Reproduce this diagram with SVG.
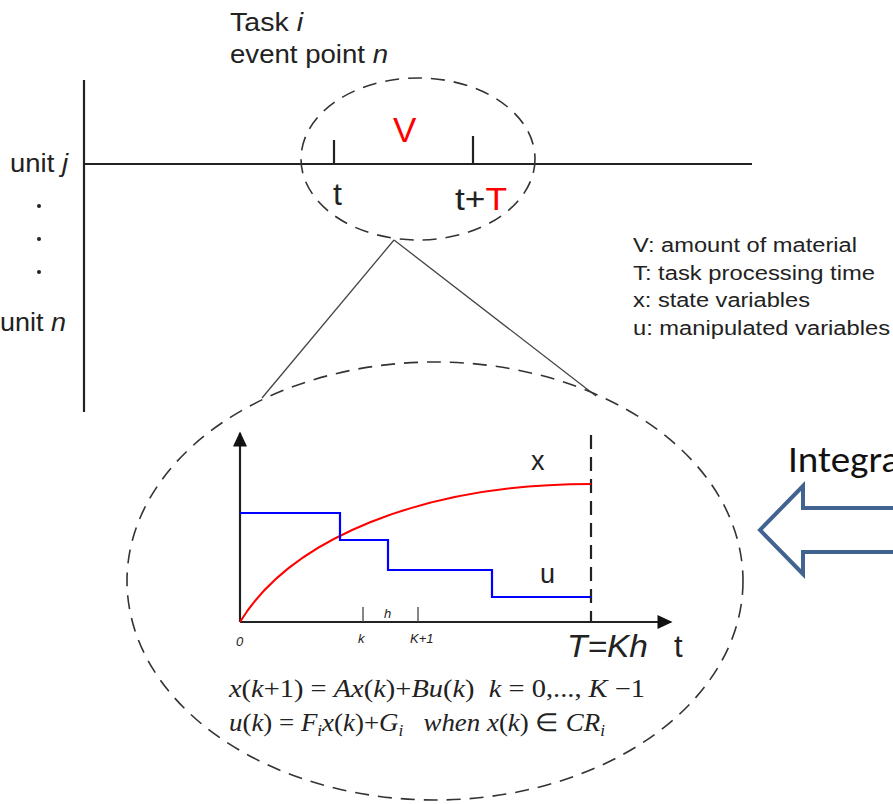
<svg xmlns="http://www.w3.org/2000/svg" width="893" height="804" viewBox="0 0 893 804">
<style>
.sans{font-family:"Liberation Sans",Arial,sans-serif;fill:#222}
.math{font-family:"Liberation Serif","Times New Roman",serif;font-style:italic;fill:#222;font-size:25px}
.up{font-style:normal}
.ax{stroke:#222;stroke-width:2.2;fill:none}
.dash{stroke:#333;stroke-width:1.6;fill:none;stroke-dasharray:14 9}
.thin{stroke:#444;stroke-width:1.3;fill:none}
</style>
<defs>
<marker id="ah" viewBox="0 0 10 10" refX="9" refY="5" markerWidth="15" markerHeight="14" markerUnits="userSpaceOnUse" orient="auto" preserveAspectRatio="none" overflow="visible">
<path d="M0,0 L10,5 L0,10 z" fill="#111"/>
</marker>
</defs>
<rect width="893" height="804" fill="#fff"/>

<g id="timeline">
<line class="ax" x1="84" y1="80" x2="84" y2="412"/>
<line class="ax" x1="84" y1="164" x2="752" y2="164"/>
<text class="sans" x="10" y="172" font-size="26" textLength="58" lengthAdjust="spacingAndGlyphs">unit <tspan font-style="italic">j</tspan></text>
<circle cx="39" cy="206" r="2" fill="#222"/>
<circle cx="39" cy="239" r="2" fill="#222"/>
<circle cx="39" cy="272" r="2" fill="#222"/>
<text class="sans" x="0" y="331" font-size="26" textLength="66" lengthAdjust="spacingAndGlyphs">unit <tspan font-style="italic">n</tspan></text>
<text class="sans" x="230" y="31" font-size="25" textLength="73" lengthAdjust="spacingAndGlyphs">Task <tspan font-style="italic">i</tspan></text>
<text class="sans" x="230" y="63" font-size="25" textLength="158" lengthAdjust="spacingAndGlyphs">event point <tspan font-style="italic">n</tspan></text>
</g>

<g id="task-ellipse">
<ellipse class="dash" cx="418" cy="159" rx="117" ry="81"/>
<line class="ax" x1="334" y1="140" x2="334" y2="164"/>
<line class="ax" x1="473" y1="136" x2="473" y2="164"/>
<text class="sans" x="393" y="142" font-size="35" style="fill:#f00">V</text>
<text class="sans" x="333" y="205" font-size="32">t</text>
<text class="sans" x="455" y="210" font-size="32" textLength="52" lengthAdjust="spacingAndGlyphs">t+<tspan style="fill:#f00">T</tspan></text>
</g>

<g id="legend">
<text class="sans" x="633" y="252" font-size="20" textLength="224" lengthAdjust="spacingAndGlyphs">V: amount of material</text>
<text class="sans" x="633" y="280" font-size="20" textLength="242" lengthAdjust="spacingAndGlyphs">T: task processing time</text>
<text class="sans" x="633" y="307" font-size="20" textLength="177" lengthAdjust="spacingAndGlyphs">x: state variables</text>
<text class="sans" x="633" y="335" font-size="20" textLength="257" lengthAdjust="spacingAndGlyphs">u: manipulated variables</text>
</g>

<g id="connectors">
<line class="thin" x1="394" y1="240" x2="262" y2="398"/>
<line class="thin" x1="394" y1="240" x2="596" y2="396"/>
</g>

<g id="zoom-ellipse">
<ellipse class="dash" cx="435" cy="581" rx="308" ry="219"/>
<line class="ax" x1="240" y1="622" x2="240" y2="433" marker-end="url(#ah)"/>
<line class="ax" x1="240" y1="622" x2="671" y2="622" marker-end="url(#ah)"/>
<line x1="591" y1="435" x2="591" y2="622" stroke="#222" stroke-width="2.2" stroke-dasharray="14 8"/>
<path d="M240,622 C290,540 420,484 591,484" fill="none" stroke="#f00" stroke-width="2"/>
<path d="M240,513 H340 V540 H388 V570 H492 V597 H591" fill="none" stroke="#00f" stroke-width="2.2"/>
<line class="thin" x1="363" y1="607" x2="363" y2="622"/>
<line class="thin" x1="418" y1="607" x2="418" y2="622"/>
<text class="sans" x="384" y="618" font-size="13" font-style="italic">h</text>
<text class="sans" x="236" y="646" font-size="13" font-style="italic">0</text>
<text class="sans" x="358" y="643" font-size="13" font-style="italic">k</text>
<text class="sans" x="410" y="643" font-size="13" font-style="italic">K+1</text>
<text class="sans" x="531" y="470" font-size="27">x</text>
<text class="sans" x="540" y="583" font-size="27">u</text>
<text class="sans" x="567" y="657" font-size="31" font-style="italic" textLength="81" lengthAdjust="spacingAndGlyphs">T=Kh</text>
<text class="sans" x="674" y="657" font-size="31">t</text>
<text class="math" x="229" y="697" textLength="416" lengthAdjust="spacingAndGlyphs" xml:space="preserve">x<tspan class="up">(</tspan>k<tspan class="up">+1) = </tspan>Ax<tspan class="up">(</tspan>k<tspan class="up">)+</tspan>Bu<tspan class="up">(</tspan>k<tspan class="up">)  </tspan>k<tspan class="up"> = 0,..., </tspan>K<tspan class="up"> −1</tspan></text>
<text class="math" x="229" y="731" textLength="376" lengthAdjust="spacingAndGlyphs" xml:space="preserve">u<tspan class="up">(</tspan>k<tspan class="up">) = </tspan>F<tspan font-size="16" dy="5">i</tspan><tspan dy="-5">x</tspan><tspan class="up">(</tspan>k<tspan class="up">)+</tspan>G<tspan font-size="16" dy="5">i</tspan><tspan dy="-5">   when x</tspan><tspan class="up">(</tspan>k<tspan class="up">) ∈ </tspan>CR<tspan font-size="16" dy="5">i</tspan></text>
</g>

<g id="integration-arrow">
<path d="M900,508 H803 V486 L760,530 L803,574 V552 H900" fill="none" stroke="#41638f" stroke-width="4" stroke-linejoin="miter"/>
<text x="788" y="472" font-family="Carlito,'Open Sans','Liberation Sans',sans-serif" font-size="36" fill="#111" textLength="112" lengthAdjust="spacingAndGlyphs">Integra</text>
</g>
</svg>
